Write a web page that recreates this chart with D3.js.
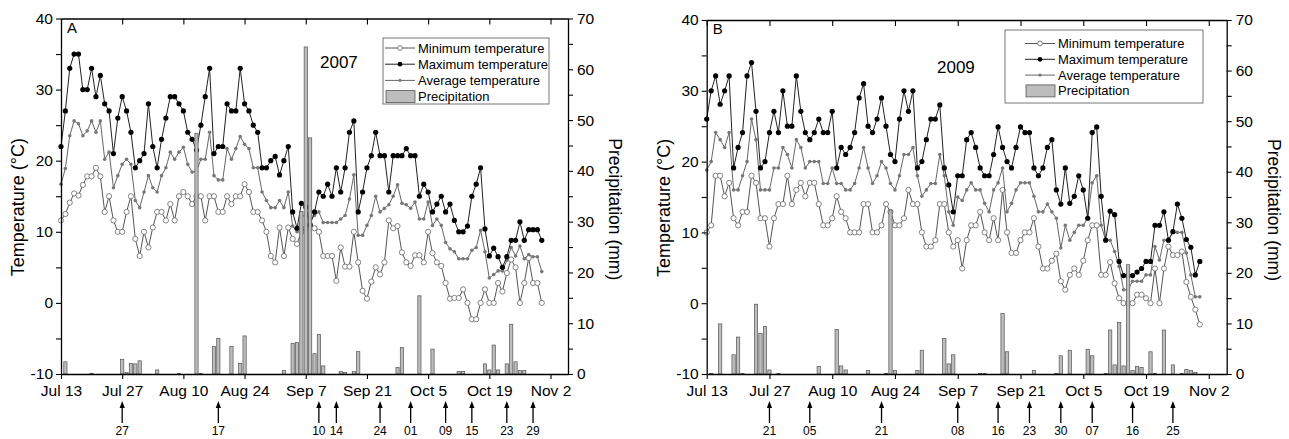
<!DOCTYPE html>
<html>
<head>
<meta charset="utf-8">
<script src="https://cdn.jsdelivr.net/npm/d3@7"></script>
<style>
  body { margin: 0; background: #fff; }
  svg { display: block; font-family: "Liberation Sans", Arial, sans-serif; }
</style>
</head>
<body>
<svg id="chart" width="1289" height="439"></svg>
<script>
// tick labels on the date axis (every 14 days)
const tickLabels = ["Jul 13", "Jul 27", "Aug 10", "Aug 24", "Sep 7", "Sep 21", "Oct 5", "Oct 19", "Nov 2"];

// daily series, Jul 13 .. Oct 31 (111 days)
const maxA = [22,27,33,35,35,30,30,33,29,32, 28,27,21,26,29,27,24,19,20,21,
  28,22,19,23,26,29,29,28,27,24, 23,21.5,25,29,33,21,22,22,28,27,
  27,33,28,27,25,24,19,19,20,20.6, 18,20,22,12.8,10.5,14,13.5,11,12.8,15.6,
  15,16.7,15,19,15.6,19,24,25.6,12.8,15.6, 19,20.7,24,20.7,20.7,15.6,20.7,20.7,20.7,21.7,
  20.7,20.7,15,16.7,15.6,12.8,13.9,15,12.8,13.9, 11.6,10,10,10.8,15,16.7,19,10.4,6.6,7.7,
  6.5,5,6.5,8.8,8.8,11.4,8.8,10.3,10.3,10.3,8.8];
const avgA = [16.7,18.9,23.5,25.6,25.2,23.5,24.2,25.6,24,25.6, 20.2,21.2,16.2,17.9,19.5,20.2,19.5,14.4,13.4,15.6,
  17.9,16.2,15.6,17.9,19,21.2,20.2,21.2,21.9,19.5, 18.4,18.5,20.2,20.2,24,17.9,17.3,17.3,21.7,20.2,
  21.7,23.4,22.3,21.7,19,19,15.6,14.4,13.4,13.4, 14.4,13.4,15.6,10.8,10,12,12.5,11.5,12.3,12.8,
  11.3,11.3,11.3,11.3,11.8,12.3,14.6,18,9.5,9.5, 10.9,12.3,15,12.8,13.3,13.8,15,16.6,14,13.8,
  13.3,14.2,11.8,11.8,14.2,10.9,11.8,10.9,8.5,7.6, 7.2,6.2,6.2,6.2,7.4,7.8,10.2,7.2,3.5,4,
  4.5,4.5,6,7.8,6.6,8,6.2,6.8,6.5,6.5,4.4];
const minA = [11.6,12.5,14.1,15.4,15.1,16.6,17.8,17.8,19,17.8, 12.8,15,11.6,10,10,12.8,15,9,6.6,10,
  7.8,10.6,12.8,12.8,11.6,13.9,11.6,15,15.6,15, 13.9,15,15,11.6,15,15,12.8,12.8,15,13.9,
  15,15,16.7,15.6,12.8,12.8,11.6,10,6.6,5.7, 10.6,6.6,10.6,9,8.3,10,10.5,10.8,10.5,10,
  6.6,6.6,6.6,3.1,7.8,5.1,5.1,10,5.7,1.7, 0.6,3,5,4,5.7,11.6,10.5,10.8,7.1,5.7,
  5.2,6.7,6.7,5.7,10,7,5.7,5.2,2.8,0.6, 0.7,0.7,1.9,0,-2.3,-2.3,0,1.9,0,0,
  2.8,1.6,4.2,6.1,5,0,2.8,6.3,2.8,2.8,0];
const precipA = [0,2.4,0,0,0,0,0,0.1,0,0, 0,0,0,0,2.9,0.3,2.1,2.0,2.6,0,
  0,0,0.8,0,0,0,0,0.1,0,0, 0,47.4,0.1,0,0,5.4,7.0,0,0,5.4,
  0,2.1,7.5,0,0,0,0,0,0,0, 0,0.7,0,6.0,6.2,32,64.4,46.5,4.0,7.8,
  1.6,0,0,0,0.5,0.3,0,0.5,4.4,0, 0,0,0,0,0,0,0,1.3,5.2,0,
  0,0,15.4,0,0,4.9,0,0,0,0, 0,0.5,0.5,0,0,0,0,2.0,0.8,5.7,
  0.8,0,2.0,9.8,2.4,0.7,0.7,0,0,0,0];

const maxB = [26,30,32.1,28.1,30,32.1,19.1,22,24.1,32.1, 34,27.1,19.1,20,24.1,27.1,24.1,30,25,25,
  32.1,27.1,24.1,23.1,24.1,26,24.1,24.1,27.1,19.1, 22,21,22,24.1,29,31,25,24.1,26,29,
  25,21,20,26,30,27.1,30,19.1,20,23.1, 26,26,28,19.1,16.7,12.9,18,18,23.1,24.1,
  22,19.1,18,18,21,24.9,22,20,19.1,22, 24.9,24.1,24.1,19.1,18,19.1,22,23.1,16,14,
  19.1,14.1,15.1,18,16,12,24.1,24.9,15.1,8.9, 13,12.5,5.9,3.9,3.9,3.9,4.4,4.9,5.9,5.9,
  11,11,12.9,8.9,10.1,14,12,9,7.9,4,5.9];
const avgB = [18.8,20,24.1,23.1,22,24.1,16,16,18,20, 26,23.1,16,16,16,19.1,19.1,22,21,19.1,
  23.1,22,19.1,20,20,20,16.9,16.9,19.1,16.9, 16.9,16,16,16.9,19.1,22,19.1,16.9,18,20,
  19.1,16.9,16,18,21,21,22,18,15.1,16, 16.9,16.9,21,18,12.9,11,15,14.5,16,17,
  16,16,14.1,12.9,16,17,19.1,12.9,14.1,16, 17,17,17,15.1,12.9,12.9,14,12.9,12,7.8,
  11,8.9,10,11,11,12,17,18,11,8.9, 8.9,7.3,5.2,1.9,1.9,3.1,3.1,3.1,4,4,
  8,6.1,8.9,9,10,10,10,7.1,4,0.9,0.9];
const minB = [10,11,18,18,15.1,17,12,11,12.9,12.9, 18,17,12,12,8,12,14,14,18,14,
  16,17,15.1,17,17,14,11,11,12,15.1, 12.9,12,10,10,10,14,14,10,10,11,
  14,12.9,11,11,12,16,14,14,10,8, 8,8.9,14,14,10,8,8.9,4.9,8.9,11,
  11,12.9,10,8.9,12,8.9,16,10,7.1,7.1, 8.9,10,10,12,8,4.9,4.9,6,7,3.1,
  1.9,4,4.9,4,6,8.9,11,11,4,4, 5.8,2.8,0.7,0,0,0,1.2,1.2,0.7,0,
  4.9,0,4.9,8,6.8,6.8,7.3,3,0.9,-0.9,-3];
const precipB = [0,0.1,0,9.9,0,0,3.8,7.3,0.1,0, 0,13.8,8.0,9.4,0.8,0,0.1,0,0,0,
  0,0,0,0,0,1.5,0,0,0,8.8, 1.6,0.8,0,0,0,0,0.7,0,0,0,
  0.1,32.4,0.7,0,0,0,0,0.7,4.7,0, 0,0,0,7.0,2.0,3.8,0,0,0,0,
  0,0.1,0.1,0,0,0,12.0,4.4,0,0, 0,0,0,0.7,0,0,0,0,0.1,3.6,
  0,4.7,0,0,0,4.9,3.6,0,0,0.1, 8.7,1.8,10.2,1.6,21.6,0.7,1.5,1.3,0,4.4,
  0.1,0,8.7,0,1.8,0,0.1,0.9,0.7,0.3,0];

// sampling arrows under the date axis
const arrowDatesA = ["Jul 27", "Aug 18", "Sep 10", "Sep 14", "Sep 24", "Oct 1", "Oct 9", "Oct 15", "Oct 23", "Oct 29"];
const arrowLabelsA = ["27", "17", "10", "14", "24", "01", "09", "15", "23", "29"];
const arrowDatesB = ["Jul 27", "Aug 5", "Aug 21", "Sep 7", "Sep 16", "Sep 23", "Sep 30", "Oct 7", "Oct 16", "Oct 25"];
const arrowLabelsB = ["21", "05", "21", "08", "16", "23", "30", "07", "16", "25"];

const legendItems = ["Minimum temperature", "Maximum temperature", "Average temperature", "Precipitation"];

const svg = d3.select("#chart");

function drawPanel(cfg) {
  const parse = d3.timeParse("%b %d %Y");
  const start = parse("Jul 13 " + cfg.year);
  const end = parse("Nov 6 " + cfg.year);

  const x = d3.scaleTime().domain([start, end]).range([cfg.left, cfg.right]);
  const yT = d3.scaleLinear().domain([-10, 40]).range([cfg.bottom, cfg.top]);
  const yP = d3.scaleLinear().domain([0, 70]).range([cfg.bottom, cfg.top]);
  const dates = cfg.max.map((v, i) => d3.timeDay.offset(start, i));
  const tickDates = tickLabels.map(t => parse(t + " " + cfg.year));

  const g = svg.append("g");

  // temperature lines
  const series = [
    { data: cfg.min, stroke: "#555", kind: "min" },
    { data: cfg.avg, stroke: "#666", kind: "avg" },
    { data: cfg.max, stroke: "#222", kind: "max" }
  ];
  const line = d3.line().x((d, i) => x(dates[i])).y(d => yT(d));
  series.forEach(s => {
    g.append("path")
      .attr("d", line(s.data))
      .attr("fill", "none")
      .attr("stroke", s.stroke)
      .attr("stroke-width", 1);
    const dots = g.append("g").selectAll("circle")
      .data(s.data)
      .enter()
      .append("circle")
      .attr("cx", (d, i) => x(dates[i]))
      .attr("cy", d => yT(d));
    if (s.kind == "max") {
      dots.attr("r", 2.6).attr("fill", "#000");
    } else if (s.kind == "min") {
      dots.attr("r", 2.6).attr("fill", "#fff").attr("stroke", "#666").attr("stroke-width", 0.8);
    } else {
      dots.attr("r", 1.8).attr("fill", "#777");
    }
  });

  // precipitation bars, drawn over the lines
  const barW = x(d3.timeDay.offset(start, 1)) - x(start);
  g.append("g").selectAll("rect")
    .data(cfg.precip.map((p, i) => ({ p: p, date: dates[i] })).filter(d => d.p > 0))
    .enter()
    .append("rect")
    .attr("x", d => x(d.date) - barW * 0.37)
    .attr("y", d => yP(d.p))
    .attr("width", barW * 0.74)
    .attr("height", d => cfg.bottom - yP(d.p))
    .attr("fill", "#bdbdbd")
    .attr("stroke", "#555")
    .attr("stroke-width", 0.7);

  // axes
  const fmt = d3.timeFormat("%b %-d");
  g.append("g")
    .attr("transform", `translate(0,${cfg.bottom})`)
    .call(d3.axisBottom(x).tickValues(tickDates).tickSize(5).tickSizeOuter(0).tickPadding(6).tickFormat(fmt))
    .call(a => a.selectAll("text").attr("font-size", 15.5).attr("fill", "#000"));
  g.append("g")
    .attr("transform", `translate(0,${cfg.top})`)
    .call(d3.axisTop(x).tickValues(tickDates).tickSize(-6).tickSizeOuter(0).tickFormat(""));
  g.append("g")
    .attr("transform", `translate(${cfg.left},0)`)
    .call(d3.axisLeft(yT).tickValues(d3.range(-10, 41, 5)).tickSize(5).tickSizeOuter(0).tickPadding(3)
      .tickFormat(d => d % 10 == 0 ? d : ""))
    .call(a => a.selectAll("text").attr("font-size", 15.5).attr("fill", "#000"));
  g.append("g")
    .attr("transform", `translate(${cfg.right},0)`)
    .call(d3.axisRight(yP).tickValues(d3.range(0, 71, 5)).tickSize(5).tickSizeOuter(0).tickPadding(4)
      .tickFormat(d => d % 10 == 0 ? d : ""))
    .call(a => a.selectAll("text").attr("font-size", 15.5).attr("fill", "#000"));
  g.selectAll(".domain").attr("stroke", "#000").attr("stroke-width", 1.3);
  g.selectAll(".tick line").attr("stroke", "#000").attr("stroke-width", 1.1);

  // axis titles
  g.append("text")
    .attr("transform", `translate(${cfg.left - 37},${(cfg.top + cfg.bottom) / 2 + 11}) rotate(-90)`)
    .attr("text-anchor", "middle")
    .attr("font-size", 18)
    .text("Temperature (°C)");
  g.append("text")
    .attr("transform", `translate(${cfg.right + 41},${(cfg.top + cfg.bottom) / 2 + 13}) rotate(90)`)
    .attr("text-anchor", "middle")
    .attr("font-size", 17.5)
    .text("Precipitation (mm)");

  // panel letter and year
  g.append("text").attr("x", cfg.left + 6).attr("y", cfg.top + 14).attr("font-size", 15).text(cfg.letter);
  g.append("text").attr("x", cfg.yearX).attr("y", cfg.yearY).attr("font-size", 17).text(cfg.year);

  // legend
  const lg = g.append("g").attr("transform", `translate(${cfg.legend.x},${cfg.legend.y})`);
  lg.append("rect")
    .attr("width", cfg.legend.w).attr("height", cfg.legend.h)
    .attr("fill", "#fff").attr("stroke", "#777").attr("stroke-width", 1);
  legendItems.forEach((name, i) => {
    const yy = cfg.legend.first + i * cfg.legend.step;
    const sx = cfg.legend.sample;
    if (i < 3) {
      const s = [series[0], series[2], series[1]][i];
      lg.append("line").attr("x1", sx).attr("x2", sx + 30).attr("y1", yy).attr("y2", yy)
        .attr("stroke", s.stroke).attr("stroke-width", 1);
      const c = lg.append("circle").attr("cx", sx + 15).attr("cy", yy);
      if (s.kind == "max") c.attr("r", 2.4).attr("fill", "#000");
      else if (s.kind == "min") c.attr("r", 2.4).attr("fill", "#fff").attr("stroke", "#666").attr("stroke-width", 0.8);
      else c.attr("r", 1.6).attr("fill", "#777");
    } else {
      lg.append("rect").attr("x", sx + 1).attr("y", yy - 6).attr("width", 29).attr("height", 12)
        .attr("fill", "#bdbdbd").attr("stroke", "#555").attr("stroke-width", 0.8);
    }
    lg.append("text").attr("x", sx + 33).attr("y", yy + 4.5).attr("font-size", 13).text(name);
  });

  // sampling arrows
  const arrows = g.append("g");
  cfg.arrowDates.forEach((d, i) => {
    const ax = x(parse(d + " " + cfg.year));
    arrows.append("line")
      .attr("x1", ax).attr("x2", ax)
      .attr("y1", 423).attr("y2", 406)
      .attr("stroke", "#000").attr("stroke-width", 1.3);
    arrows.append("path")
      .attr("d", `M${ax - 2.6},${408} L${ax},${401} L${ax + 2.6},${408} Z`)
      .attr("fill", "#000");
    arrows.append("text")
      .attr("x", ax).attr("y", 435)
      .attr("text-anchor", "middle")
      .attr("font-size", 12)
      .text(cfg.arrowLabels[i]);
  });
}

drawPanel({
  year: 2007, letter: "A", left: 61, right: 568, top: 18.5, bottom: 374,
  max: maxA, avg: avgA, min: minA, precip: precipA,
  arrowDates: arrowDatesA, arrowLabels: arrowLabelsA,
  yearX: 320, yearY: 68,
  legend: { x: 383, y: 38, w: 166, h: 66, first: 10, step: 16.2, sample: 2 }
});
drawPanel({
  year: 2009, letter: "B", left: 706.7, right: 1226.7, top: 20, bottom: 374,
  max: maxB, avg: avgB, min: minB, precip: precipB,
  arrowDates: arrowDatesB, arrowLabels: arrowLabelsB,
  yearX: 937, yearY: 73,
  legend: { x: 1005, y: 30, w: 198, h: 73, first: 13.5, step: 15.8, sample: 20 }
});
</script>
</body>
</html>
